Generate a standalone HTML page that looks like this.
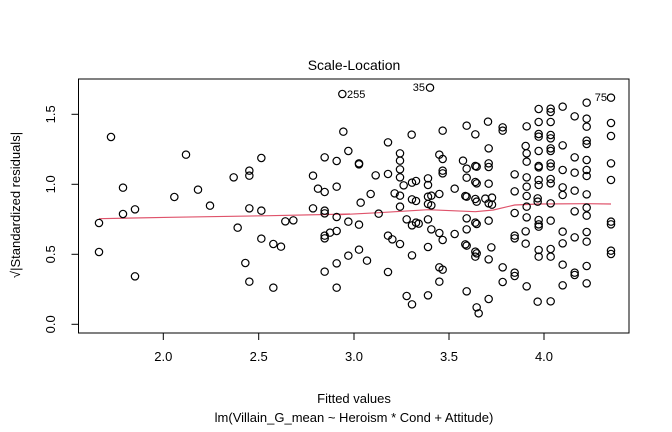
<!DOCTYPE html>
<html><head><style>body{margin:0;background:#fff}svg{display:block}</style></head><body>
<svg width="672" height="432" xmlns="http://www.w3.org/2000/svg" font-family="Liberation Sans, Arial, sans-serif">
<rect width="672" height="432" fill="#fff"/>
<rect x="78.5" y="79" width="550.5" height="254" fill="none" stroke="#000" stroke-width="1"/>
<g stroke="#000" stroke-width="1">
<line x1="163.3" y1="333" x2="163.3" y2="340"/><line x1="258.7" y1="333" x2="258.7" y2="340"/><line x1="354" y1="333" x2="354" y2="340"/><line x1="449" y1="333" x2="449" y2="340"/><line x1="544" y1="333" x2="544" y2="340"/>
<line x1="71.5" y1="114.3" x2="78.5" y2="114.3"/><line x1="71.5" y1="184.3" x2="78.5" y2="184.3"/><line x1="71.5" y1="254.3" x2="78.5" y2="254.3"/><line x1="71.5" y1="324.3" x2="78.5" y2="324.3"/>
</g>
<g font-size="13" text-anchor="middle" fill="#000">
<text x="163.3" y="361">2.0</text><text x="258.7" y="361">2.5</text><text x="354" y="361">3.0</text><text x="449" y="361">3.5</text><text x="544" y="361">4.0</text>
<text transform="translate(55 114.3) rotate(-90)">1.5</text>
<text transform="translate(55 184.3) rotate(-90)">1.0</text>
<text transform="translate(55 254.3) rotate(-90)">0.5</text>
<text transform="translate(55 324.3) rotate(-90)">0.0</text>
<text transform="translate(20 205) rotate(-90)">√|Standardized residuals|</text>
<text x="354" y="403">Fitted values</text>
<text x="354" y="422">lm(Villain_G_mean ~ Heroism * Cond + Attitude)</text>
<text x="354" y="70" font-size="14">Scale-Location</text>
</g>
<g font-size="11" fill="#000">
<text x="347" y="98">255</text>
<text x="425" y="91" text-anchor="end">35</text>
<text x="607" y="101" text-anchor="end">75</text>
</g>
<g transform="translate(70 70) scale(0.33333)" fill="none" stroke="#000" stroke-width="3.6">
<polyline points="87,446 300,442 600,437 840,432" stroke="#df536b" stroke-width="3.5"/>
<circle cx="123" cy="201" r="11"/><circle cx="87" cy="459" r="11"/><circle cx="87" cy="546" r="11"/><circle cx="159" cy="353" r="11"/><circle cx="159" cy="432" r="11"/><circle cx="195" cy="418" r="11"/><circle cx="195" cy="619" r="11"/><circle cx="348" cy="254" r="11"/><circle cx="313" cy="381" r="11"/><circle cx="384" cy="359" r="11"/><circle cx="420" cy="407" r="11"/><circle cx="491" cy="322" r="11"/><circle cx="503" cy="473" r="11"/><circle cx="526" cy="579" r="11"/><circle cx="538" cy="302" r="11"/><circle cx="538" cy="317" r="11"/><circle cx="538" cy="415" r="11"/><circle cx="538" cy="635" r="11"/><circle cx="574" cy="264" r="11"/><circle cx="574" cy="422" r="11"/><circle cx="574" cy="506" r="11"/><circle cx="610" cy="522" r="11"/><circle cx="610" cy="653" r="11"/><circle cx="633" cy="530" r="11"/><circle cx="646" cy="454" r="11"/><circle cx="670" cy="451" r="11"/><circle cx="729" cy="317" r="11"/><circle cx="729" cy="415" r="11"/><circle cx="744" cy="356" r="11"/><circle cx="764" cy="262" r="11"/><circle cx="764" cy="366" r="11"/><circle cx="764" cy="422" r="11"/><circle cx="764" cy="430" r="11"/><circle cx="764" cy="497" r="11"/><circle cx="764" cy="505" r="11"/><circle cx="764" cy="605" r="11"/><circle cx="780" cy="488" r="11"/><circle cx="800" cy="273" r="11"/><circle cx="800" cy="350" r="11"/><circle cx="800" cy="441" r="11"/><circle cx="800" cy="483" r="11"/><circle cx="800" cy="580" r="11"/><circle cx="800" cy="653" r="11"/><circle cx="817" cy="72" r="11"/><circle cx="820" cy="185" r="11"/><circle cx="835" cy="243" r="11"/><circle cx="835" cy="455" r="11"/><circle cx="835" cy="557" r="11"/>
</g>
<g transform="translate(340 70) scale(0.33333)" fill="none" stroke="#000" stroke-width="3.6">
<polyline points="0,434 116,428 264,419 406,425 460,420 524,405 596,402 740,401 813,402" stroke="#df536b" stroke-width="3.5"/>
<circle cx="270" cy="53" r="11"/><circle cx="57" cy="280" r="11"/><circle cx="57" cy="283" r="11"/><circle cx="62" cy="398" r="11"/><circle cx="57" cy="464" r="11"/><circle cx="57" cy="539" r="11"/><circle cx="81" cy="572" r="11"/>
<circle cx="107" cy="316" r="11"/><circle cx="92" cy="372" r="11"/><circle cx="116" cy="431" r="11"/>
<circle cx="144" cy="217" r="11"/><circle cx="144" cy="312" r="11"/><circle cx="164" cy="370" r="11"/><circle cx="144" cy="497" r="11"/><circle cx="157" cy="508" r="11"/><circle cx="180" cy="522" r="11"/><circle cx="144" cy="606" r="11"/>
<circle cx="180" cy="250" r="11"/><circle cx="180" cy="272" r="11"/><circle cx="180" cy="298" r="11"/><circle cx="180" cy="322" r="11"/><circle cx="191" cy="346" r="11"/><circle cx="180" cy="377" r="11"/><circle cx="180" cy="410" r="11"/><circle cx="200" cy="448" r="11"/><circle cx="216" cy="466" r="11"/><circle cx="216" cy="556" r="11"/><circle cx="200" cy="678" r="11"/><circle cx="216" cy="703" r="11"/><circle cx="215" cy="194" r="11"/>
<circle cx="216" cy="338" r="11"/><circle cx="228" cy="333" r="11"/><circle cx="216" cy="388" r="11"/><circle cx="228" cy="393" r="11"/><circle cx="236" cy="461" r="11"/><circle cx="228" cy="458" r="11"/>
<circle cx="264" cy="325" r="11"/><circle cx="264" cy="345" r="11"/><circle cx="264" cy="380" r="11"/><circle cx="264" cy="402" r="11"/><circle cx="274" cy="377" r="11"/><circle cx="274" cy="406" r="11"/><circle cx="264" cy="448" r="11"/><circle cx="274" cy="478" r="11"/><circle cx="264" cy="531" r="11"/><circle cx="264" cy="676" r="11"/>
<circle cx="308" cy="182" r="11"/><circle cx="298" cy="254" r="11"/><circle cx="308" cy="267" r="11"/><circle cx="308" cy="302" r="11"/><circle cx="308" cy="310" r="11"/><circle cx="298" cy="372" r="11"/><circle cx="298" cy="489" r="11"/><circle cx="308" cy="510" r="11"/><circle cx="298" cy="592" r="11"/><circle cx="308" cy="599" r="11"/><circle cx="298" cy="635" r="11"/>
<circle cx="344" cy="356" r="11"/><circle cx="344" cy="492" r="11"/>
<circle cx="380" cy="167" r="11"/><circle cx="369" cy="272" r="11"/><circle cx="380" cy="296" r="11"/><circle cx="380" cy="323" r="11"/><circle cx="376" cy="378" r="11"/><circle cx="380" cy="380" r="11"/><circle cx="380" cy="445" r="11"/><circle cx="380" cy="478" r="11"/><circle cx="376" cy="523" r="11"/><circle cx="380" cy="527" r="11"/><circle cx="380" cy="664" r="11"/>
<circle cx="406" cy="193" r="11"/><circle cx="406" cy="288" r="11"/><circle cx="410" cy="290" r="11"/><circle cx="406" cy="336" r="11"/><circle cx="410" cy="340" r="11"/><circle cx="406" cy="387" r="11"/><circle cx="410" cy="395" r="11"/><circle cx="406" cy="458" r="11"/><circle cx="410" cy="462" r="11"/><circle cx="406" cy="545" r="11"/><circle cx="410" cy="550" r="11"/><circle cx="406" cy="560" r="11"/><circle cx="410" cy="712" r="11"/><circle cx="416" cy="730" r="11"/>
<circle cx="444" cy="155" r="11"/><circle cx="446" cy="235" r="11"/><circle cx="446" cy="280" r="11"/><circle cx="446" cy="291" r="11"/><circle cx="446" cy="341" r="11"/><circle cx="436" cy="386" r="11"/><circle cx="446" cy="400" r="11"/><circle cx="456" cy="383" r="11"/><circle cx="456" cy="404" r="11"/><circle cx="446" cy="452" r="11"/><circle cx="446" cy="568" r="11"/><circle cx="454" cy="532" r="11"/><circle cx="446" cy="687" r="11"/>
<circle cx="488" cy="172" r="11"/><circle cx="488" cy="182" r="11"/><circle cx="488" cy="592" r="11"/><circle cx="488" cy="636" r="11"/>
<circle cx="524" cy="313" r="11"/><circle cx="524" cy="364" r="11"/><circle cx="524" cy="429" r="11"/><circle cx="524" cy="497" r="11"/><circle cx="524" cy="505" r="11"/><circle cx="524" cy="608" r="11"/><circle cx="524" cy="618" r="11"/>
<circle cx="560" cy="169" r="11"/><circle cx="557" cy="228" r="11"/><circle cx="560" cy="250" r="11"/><circle cx="560" cy="275" r="11"/><circle cx="560" cy="322" r="11"/><circle cx="560" cy="350" r="11"/><circle cx="560" cy="378" r="11"/><circle cx="560" cy="410" r="11"/><circle cx="560" cy="442" r="11"/><circle cx="557" cy="484" r="11"/><circle cx="557" cy="521" r="11"/><circle cx="560" cy="649" r="11"/>
<circle cx="596" cy="117" r="11"/><circle cx="596" cy="156" r="11"/><circle cx="596" cy="192" r="11"/><circle cx="596" cy="200" r="11"/><circle cx="596" cy="243" r="11"/><circle cx="596" cy="288" r="11"/><circle cx="596" cy="292" r="11"/><circle cx="596" cy="330" r="11"/><circle cx="596" cy="345" r="11"/><circle cx="593" cy="385" r="11"/><circle cx="593" cy="395" r="11"/><circle cx="596" cy="450" r="11"/><circle cx="596" cy="463" r="11"/><circle cx="596" cy="470" r="11"/><circle cx="596" cy="540" r="11"/><circle cx="596" cy="560" r="11"/><circle cx="593" cy="695" r="11"/>
<circle cx="632" cy="116" r="11"/><circle cx="632" cy="126" r="11"/><circle cx="632" cy="156" r="11"/><circle cx="632" cy="195" r="11"/><circle cx="632" cy="205" r="11"/><circle cx="632" cy="235" r="11"/><circle cx="632" cy="243" r="11"/><circle cx="632" cy="280" r="11"/><circle cx="632" cy="290" r="11"/><circle cx="632" cy="327" r="11"/><circle cx="632" cy="340" r="11"/><circle cx="632" cy="400" r="11"/><circle cx="632" cy="452" r="11"/><circle cx="632" cy="537" r="11"/><circle cx="632" cy="560" r="11"/><circle cx="632" cy="694" r="11"/>
<circle cx="668" cy="110" r="11"/><circle cx="668" cy="226" r="11"/><circle cx="668" cy="300" r="11"/><circle cx="668" cy="352" r="11"/><circle cx="668" cy="375" r="11"/><circle cx="668" cy="485" r="11"/><circle cx="668" cy="520" r="11"/><circle cx="668" cy="584" r="11"/><circle cx="668" cy="646" r="11"/>
<circle cx="704" cy="139" r="11"/><circle cx="704" cy="262" r="11"/><circle cx="704" cy="308" r="11"/><circle cx="704" cy="362" r="11"/><circle cx="704" cy="424" r="11"/><circle cx="704" cy="502" r="11"/><circle cx="704" cy="608" r="11"/><circle cx="704" cy="615" r="11"/>
<circle cx="740" cy="98" r="11"/><circle cx="740" cy="146" r="11"/><circle cx="740" cy="170" r="11"/><circle cx="740" cy="212" r="11"/><circle cx="740" cy="222" r="11"/><circle cx="740" cy="270" r="11"/><circle cx="740" cy="300" r="11"/><circle cx="740" cy="318" r="11"/><circle cx="740" cy="373" r="11"/><circle cx="740" cy="413" r="11"/><circle cx="740" cy="437" r="11"/><circle cx="740" cy="486" r="11"/><circle cx="740" cy="515" r="11"/><circle cx="740" cy="588" r="11"/><circle cx="740" cy="640" r="11"/>
<circle cx="813" cy="83" r="11"/><circle cx="813" cy="159" r="11"/><circle cx="813" cy="198" r="11"/><circle cx="813" cy="280" r="11"/><circle cx="813" cy="330" r="11"/><circle cx="813" cy="455" r="11"/><circle cx="813" cy="463" r="11"/><circle cx="813" cy="542" r="11"/><circle cx="813" cy="552" r="11"/>
</g>
</svg>
</body></html>
